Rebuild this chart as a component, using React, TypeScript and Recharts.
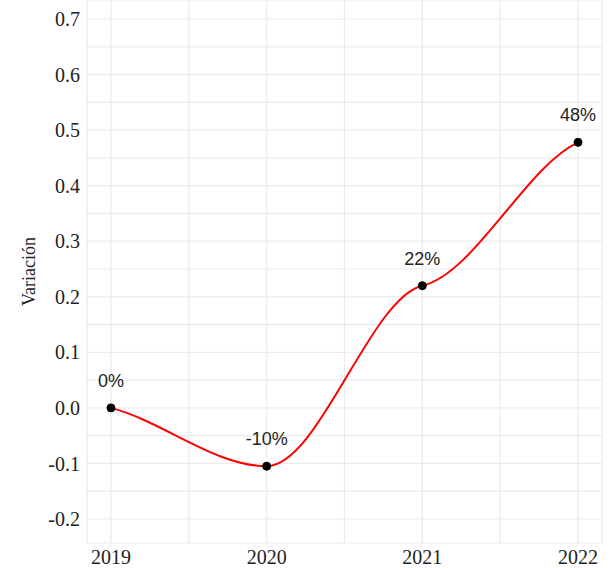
import { LineChart, Line, XAxis, YAxis, CartesianGrid, LabelList } from 'recharts'

// años y variación interanual
const years = [2019, 2020, 2021, 2022]
const variacion = [0, -0.105, 0.22, 0.478]
const etiquetas = ['0%', '-10%', '22%', '48%']

// ticks: majors carry a label, minors only draw a grid line
const xTicks = [2019, 2019.5, 2020, 2020.5, 2021, 2021.5, 2022]
const yTicks = [-0.2, -0.15, -0.1, -0.05, 0, 0.05, 0.1, 0.15, 0.2, 0.25, 0.3, 0.35, 0.4, 0.45, 0.5, 0.55, 0.6, 0.65, 0.7]

const data = years.map((year, i) => ({ year, value: variacion[i], label: etiquetas[i] }))

const serif = '"Liberation Serif", "Times New Roman", serif'
const sans = '"Liberation Sans", Arial, sans-serif'

const isMajor = (v: number, step: number) => Math.abs(Math.round(v / step) * step - v) < 1e-9

// smooth spline through the points, flattened at the knots (like ggplot's xspline)
const smoothCurve = (ctx: any) => {
  let pts: number[][] = []
  return {
    areaStart() {},
    areaEnd() {},
    lineStart() { pts = [] },
    point(x: number, y: number) { pts.push([+x, +y]) },
    lineEnd() {
      const n = pts.length
      if (!n) return
      ctx.moveTo(pts[0][0], pts[0][1])
      if (n === 1) return
      const s = pts.slice(1).map((p, i) => (p[1] - pts[i][1]) / (p[0] - pts[i][0]))
      const m = pts.map((_, i) => {
        if (i === 0) return 0.7 * s[0]
        if (i === n - 1) return 0.5 * s[n - 2]
        const a = s[i - 1]
        const b = s[i]
        if (a * b <= 0) return 0
        return Math.sign(a) * 0.25 * Math.min(Math.abs(a), Math.abs(b))
      })
      for (let i = 0; i < n - 1; i++) {
        const [x0, y0] = pts[i]
        const [x1, y1] = pts[i + 1]
        const h = (x1 - x0) / 3
        ctx.bezierCurveTo(x0 + h, y0 + m[i] * h, x1 - h, y1 - m[i + 1] * h, x1, y1)
      }
    },
  }
}

export default function App() {
  return (
    <div style={{ position: 'absolute', left: 0, top: 0, width: 614, height: 568, background: '#fff' }}>
      <LineChart width={614} height={568} data={data} margin={{ top: 0, right: 12, left: 0, bottom: 0 }}>
        <CartesianGrid stroke="#ebebeb" strokeWidth={1.2} />
        <XAxis
          dataKey="year"
          type="number"
          domain={[2018.846, 2022.154]}
          ticks={xTicks}
          tickFormatter={(v) => (isMajor(v, 1) ? String(v) : '')}
          axisLine={false}
          tickLine={false}
          tickSize={0}
          tickMargin={7}
          height={25}
          tick={{ fill: '#222', fontSize: 20, fontFamily: serif }}
        />
        <YAxis
          type="number"
          domain={[-0.2432, 0.7342]}
          ticks={yTicks}
          tickFormatter={(v) => (isMajor(v, 0.1) ? v.toFixed(1) : '')}
          axisLine={false}
          tickLine={false}
          tickSize={0}
          tickMargin={7}
          width={87}
          allowDataOverflow
          tick={{ fill: '#222', fontSize: 20, fontFamily: serif }}
          label={{ value: 'Variación', angle: -90, position: 'insideLeft', offset: 22, dx: 7, style: { fill: '#222', fontSize: 18, fontFamily: serif, textAnchor: 'middle' } }}
        />
        <Line
          dataKey="value"
          type={smoothCurve as any}
          stroke="#ff0000"
          strokeWidth={2}
          dot={{ r: 4, fill: '#000', stroke: '#000', strokeWidth: 1 }}
          activeDot={false}
          isAnimationActive={false}
        >
          <LabelList dataKey="label" position="top" offset={21} fill="#222" fontSize={18} fontFamily={sans} />
        </Line>
      </LineChart>
    </div>
  )
}
